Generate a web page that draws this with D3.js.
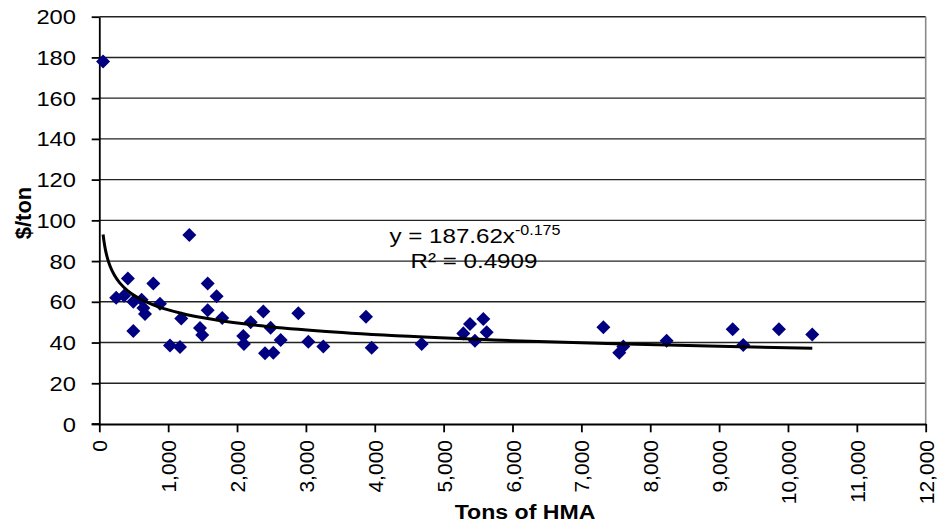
<!DOCTYPE html>
<html><head><meta charset="utf-8">
<script src="https://cdn.jsdelivr.net/npm/d3@7"></script>
<style>
body{margin:0;background:#fff}
svg{display:block}
text{font-family:"Liberation Sans",Arial,Helvetica,sans-serif;fill:#000}
</style>
</head><body>
<svg id="c" width="937" height="527"></svg>
<script>
// ---- data ----
const tons = [55, 245, 360, 415, 494, 615, 640, 664, 784, 881, 494, 1027, 1172, 1190, 1307,
  1462, 1495, 1574, 1574, 1704, 1785, 2090, 2100, 2198, 2382, 2488, 2406, 2527, 2634, 2890,
  3035, 3253, 3873, 3955, 4681, 5286, 5383, 5576, 5625, 5455, 7320, 7550, 7609, 8238, 9197,
  9351, 9869, 10353];
const cost = [178, 62, 63, 71.5, 60, 61, 57, 54, 69, 59, 45.7, 38.6, 37.8, 51.8, 92.8,
  47.2, 43.7, 69, 55.8, 62.7, 52, 43.2, 39.3, 50, 55.2, 47.3, 34.7, 35, 41.2, 54.4,
  40.4, 38, 52.7, 37.5, 39.3, 44.5, 49.1, 51.6, 45, 40.9, 47.5, 35, 38, 40.9, 46.5,
  38.8, 46.5, 44];
const xTicks = [0,1000,2000,3000,4000,5000,6000,7000,8000,9000,10000,11000,12000];
const yTicks = [0,20,40,60,80,100,120,140,160,180,200];
// power trendline coefficients, as printed on the chart
const trendA = 187.62, trendB = -0.175, trendR2 = 0.4909;
const trendSamples = [55,70,90,120,160,220,300,420,600,850,1200,1700,2400,3300,4500,6000,7500,9000,10353];

// ---- layout ----
const L = 99.3, R = 925.7, T = 16.7, B = 424;
const svg = d3.select("#c");
const x = d3.scaleLinear().domain([0, 12000]).range([L, R]);
const y = d3.scaleLinear().domain([0, 200]).range([B, T]);
const fmt = d3.format(",");

// gridlines
svg.append("g").selectAll("line").data(yTicks.filter(d => d > 0)).join("line")
  .attr("x1", L).attr("x2", R).attr("y1", d => y(d)).attr("y2", d => y(d))
  .attr("stroke", "#222").attr("stroke-width", 1.4);

// right border
svg.append("line").attr("x1", R).attr("x2", R).attr("y1", T).attr("y2", B)
  .attr("stroke", "#8a8a8a").attr("stroke-width", 1.6);

// y axis
const ya = svg.append("g").attr("transform", `translate(${L},0)`)
  .call(d3.axisLeft(y).tickValues(yTicks).tickSize(7.6).tickSizeOuter(0).tickPadding(0));
ya.selectAll("path,line").attr("stroke", "#000").attr("stroke-width", 1.8);
ya.selectAll("text").attr("x", null).attr("dy", null)
  .style("font-size", "21px").attr("fill", "#000")
  .attr("text-anchor", "end").attr("dominant-baseline", "central")
  .attr("transform", "translate(-23.3,0) scale(1.13,1)");

// x axis
const xa = svg.append("g").attr("transform", `translate(0,${B})`)
  .call(d3.axisBottom(x).tickValues(xTicks).tickFormat(fmt).tickSize(8.3).tickSizeOuter(0));
xa.selectAll("path,line").attr("stroke", "#000").attr("stroke-width", 1.8);
xa.selectAll("text").attr("y", null).attr("x", null).attr("dy", "0.36em")
  .style("font-size", "21px").attr("fill", "#000")
  .attr("text-anchor", "end")
  .attr("transform", "translate(0,16) rotate(-90)");
// extend bottom axis line to y-tick start
svg.append("line").attr("x1", L - 7.6).attr("x2", L).attr("y1", B).attr("y2", B)
  .attr("stroke", "#000").attr("stroke-width", 1.8);

// points
const sym = d3.symbol().type(d3.symbolDiamond2 || d3.symbolSquare).size(125);
svg.append("g").selectAll("path").data(tons.map((t, i) => [t, cost[i]])).join("path")
  .attr("d", sym)
  .attr("transform", d => `translate(${x(d[0])},${y(d[1])})` + (d3.symbolDiamond2 ? "" : " rotate(45)"))
  .attr("fill", "#000080");

// trendline
const line = d3.line().x(d => x(d)).y(d => y(trendA * Math.pow(d, trendB))).curve(d3.curveMonotoneX);
svg.append("path").datum(trendSamples).attr("d", line)
  .attr("fill", "none").attr("stroke", "#000").attr("stroke-width", 3);

// equation label
const eq = svg.append("g").attr("transform", "translate(475,243) scale(1.15,1)");
const t1 = eq.append("text").attr("text-anchor", "middle").style("font-size", "21px");
t1.append("tspan").text(`y = ${trendA}x`);
t1.append("tspan").attr("dy", "-8").style("font-size", "14px").text(`-${Math.abs(trendB)}`);
svg.append("g").attr("transform", "translate(474,268) scale(1.15,1)")
  .append("text").attr("text-anchor", "middle").style("font-size", "21px")
  .text(`R² = ${trendR2}`);

// axis titles
svg.append("g").attr("transform", "translate(525,519) scale(1.1,1)")
  .append("text").attr("text-anchor", "middle").style("font-size", "21px").style("font-weight", "bold")
  .text("Tons of HMA");
svg.append("text").attr("transform", "translate(31,213) rotate(-90)")
  .attr("text-anchor", "middle").style("font-size", "22px").style("font-weight", "bold")
  .text("$/ton");
</script>
</body></html>
